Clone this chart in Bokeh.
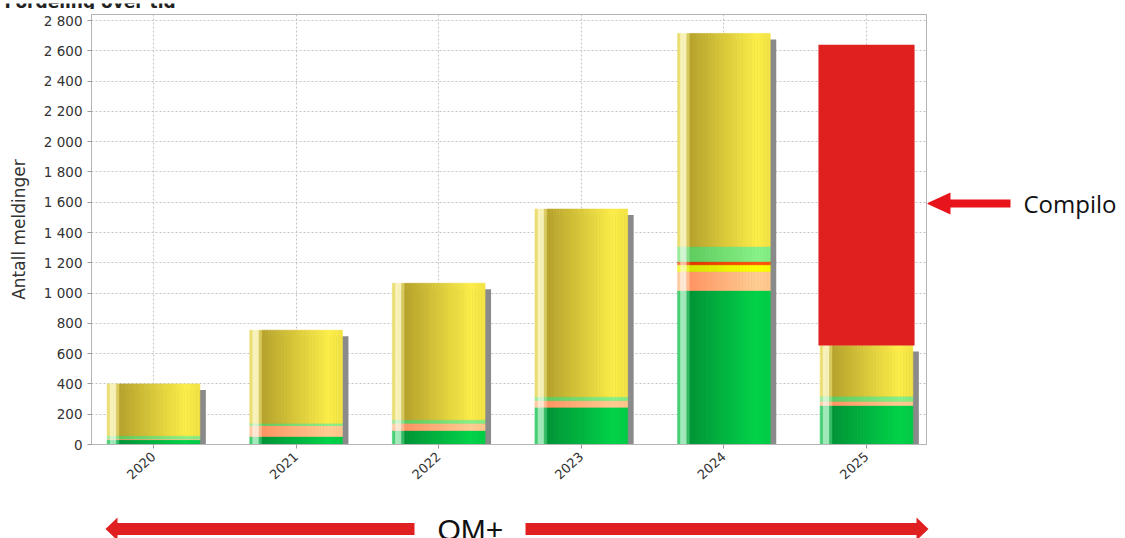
import numpy as np
from bokeh.plotting import figure
from bokeh.layouts import column, row
from bokeh.models import Range1d, FixedTicker, ColumnDataSource
from bokeh.core.properties import value
from bokeh.embed import file_html
from bokeh.resources import INLINE

# ---------------- data ----------------
years = ["2020", "2021", "2022", "2023", "2024", "2025"]
green = [32, 53, 92, 246, 1017, 258]
orange = [5, 73, 48, 44, 126, 28]
yellow = [0, 0, 0, 0, 44, 0]
red = [0, 0, 0, 0, 22, 0]
light_green = [20, 14, 23, 25, 99, 33]
gold = [343, 615, 902, 1240, 1407, 335]
compilo_top = 2640          # top of the Compilo box over 2025
ytick_values = [0, 200, 400, 600, 800, 1000, 1200, 1400, 1600, 1800, 2000, 2200, 2400, 2600, 2800]
ytick_labels = ["0", "200", "400", "600", "800", "1 000", "1 200", "1 400", "1 600",
                "1 800", "2 000", "2 200", "2 400", "2 600", "2 800"]
title_text = "Fordeling over tid"
compilo_text = "Compilo"
qm_text = "QM+"

segments = [
    (green, (0, 150, 55), (0, 212, 72)),
    (orange, (255, 150, 100), (255, 205, 145)),
    (yellow, (215, 228, 0), (255, 255, 0)),
    (red, (225, 55, 0), (255, 85, 10)),
    (light_green, (95, 205, 95), (135, 242, 135)),
    (gold, (184, 164, 44), (252, 237, 72)),
]

# ---------------- layout ----------------
W, H = 1125, 538
TOP_H = 9                 # strip for the cut title
BOT_H = 33                # strip for the QM+ arrow
MAIN_W = 927
MAIN_H = H - TOP_H - BOT_H
RIGHT_W = W - MAIN_W
FRAME_TOP, FRAME_BOTTOM = 14, 444     # page pixels
FRAME_LEFT, FRAME_RIGHT = 91, 926
X0, DX = 153.0, 142.6                 # page pixel of category 0, spacing
MB_TOP = FRAME_TOP - TOP_H
MB_BOTTOM = TOP_H + MAIN_H - FRAME_BOTTOM


def deco_fig(w, h, xr, yr, mb_top=0, mb_bottom=0):
    f = figure(width=w, height=h, output_backend="svg", toolbar_location=None,
               x_range=Range1d(*xr), y_range=Range1d(*yr),
               min_border=0, min_border_left=0, min_border_right=0,
               min_border_top=mb_top, min_border_bottom=mb_bottom)
    f.axis.visible = False
    f.grid.visible = False
    f.outline_line_color = None
    f.background_fill_color = "white"
    f.border_fill_color = "white"
    return f


BAR_W = 0.65
p = figure(width=MAIN_W, height=MAIN_H, output_backend="svg", toolbar_location=None,
           x_range=Range1d((FRAME_LEFT - X0) / DX, (FRAME_RIGHT - X0) / DX),
           y_range=Range1d(0, 2840),
           min_border_left=FRAME_LEFT, min_border_right=MAIN_W - FRAME_RIGHT,
           min_border_top=MB_TOP, min_border_bottom=MB_BOTTOM)
p.background_fill_color = "white"
p.border_fill_color = "white"
p.outline_line_color = "#b4b4b4"

ticks_x = list(range(len(years)))
p.xgrid.ticker = FixedTicker(ticks=ticks_x)
p.ygrid.ticker = FixedTicker(ticks=ytick_values)
for g in (p.xgrid, p.ygrid):
    g.grid_line_color = "#c4c4c4"
    g.grid_line_dash = "2 2"
    g.grid_line_width = 1

p.xaxis.ticker = FixedTicker(ticks=ticks_x)
p.xaxis.major_label_overrides = {i: y for i, y in enumerate(years)}
p.xaxis.major_label_orientation = 0.74
p.yaxis.ticker = FixedTicker(ticks=ytick_values)
p.yaxis.major_label_overrides = {v: l for v, l in zip(ytick_values, ytick_labels)}
p.yaxis.axis_label = "Antall meldinger"
for ax in (p.xaxis, p.yaxis):
    ax.axis_line_color = "#b4b4b4"
    ax.major_tick_line_color = "#999999"
    ax.major_tick_out = 4
    ax.major_tick_in = 0
    ax.minor_tick_line_color = None
    ax.major_label_text_font = "DejaVu Sans"
    ax.major_label_text_color = "#333333"
p.yaxis.major_label_text_font_size = "13.5px"
p.xaxis.major_label_text_font_size = "13px"
p.xaxis.major_label_standoff = 6
p.yaxis.axis_label_text_font = "DejaVu Sans"
p.yaxis.axis_label_text_font_style = "normal"
p.yaxis.axis_label_text_font_size = "17px"
p.yaxis.axis_label_text_color = "#333333"
p.yaxis.axis_label_standoff = 12

# shadows
totals = [sum(s[0][i] for s in segments) for i in range(len(years))]
px_per_unit = (FRAME_BOTTOM - FRAME_TOP) / 2840.0
sh_off = 6.0 / DX
sh_drop = 6.0 / px_per_unit
p.quad(left=[i - BAR_W / 2 + sh_off for i in ticks_x],
       right=[i + BAR_W / 2 + sh_off for i in ticks_x],
       bottom=[0] * len(years), top=[t - sh_drop for t in totals],
       fill_color="#8a8a8a", line_color=None)

# gradient bars (cylinder look)
N = 30
t_edges = np.linspace(0, 1, N + 1)
t_mid = (t_edges[:-1] + t_edges[1:]) / 2
kt = [0, 0.04, 0.07, 0.10, 0.15, 0.85, 1.0]
kf = [0.55, 0.7, 0.9, 0.5, 0.0, 1.0, 0.85]
kw = [0.12, 0.5, 0.9, 0.3, 0.0, 0.0, 0.0]
fvals = np.interp(t_mid, kt, kf)
wvals = np.interp(t_mid, kt, kw)

L, R, B, T, C = [], [], [], [], []
for i in ticks_x:
    cum = 0
    for vals, dark, light in segments:
        v = vals[i]
        if v <= 0:
            continue
        for j in range(N):
            col = [dark[k] + (light[k] - dark[k]) * fvals[j] for k in range(3)]
            col = [int(round(c + (255 - c) * wvals[j])) for c in col]
            L.append(i - BAR_W / 2 + t_edges[j] * BAR_W)
            R.append(i - BAR_W / 2 + t_edges[j + 1] * BAR_W)
            B.append(cum)
            T.append(cum + v)
            C.append("#%02x%02x%02x" % tuple(col))
        cum += v
src = ColumnDataSource(dict(left=L, right=R, bottom=B, top=T, color=C))
p.quad(left="left", right="right", bottom="bottom", top="top", source=src,
       fill_color="color", line_color="color", line_width=0.6)

# Compilo box over 2025
ci = len(years) - 1
p.quad(left=[ci - 0.337], right=[ci + 0.337], bottom=[totals[ci]], top=[compilo_top],
       fill_color="#e01f1f", line_color=None)

# ---------------- top strip: title cut by the page edge (page-pixel coords) ----------------
top = deco_fig(W, TOP_H, (0, W), (TOP_H, 0))
top.text(x=[4], y=[8.6], text=[title_text], text_font=value("DejaVu Sans"),
         text_font_size="17px", text_font_style="bold", text_color="#222222",
         text_baseline="bottom")

# ---------------- right strip: Compilo arrow (page-pixel coords, frame aligned) ----------------
rt = deco_fig(RIGHT_W, MAIN_H, (MAIN_W, W), (FRAME_BOTTOM, FRAME_TOP),
              mb_top=MB_TOP, mb_bottom=MB_BOTTOM)
ay = 203
rt.patch(x=[926, 950, 950, 1010, 1010, 950, 950],
         y=[ay, ay - 11, ay - 4, ay - 4, ay + 4, ay + 4, ay + 11],
         fill_color="#e8141c", line_color=None)
rt.text(x=[1023], y=[ay], text=[compilo_text], text_font=value("Open Sans"),
        text_font_size="24px", text_color="#111111", text_baseline="middle")

# ---------------- bottom strip: QM+ double arrow (page-pixel coords) ----------------
bt = deco_fig(W, BOT_H, (0, W), (H, H - BOT_H))
by = 528.5
RED = "#e02020"
bt.patch(x=[105, 117, 117, 414, 414, 117, 117],
         y=[by, by - 11.5, by - 6, by - 6, by + 6, by + 6, by + 11.5],
         fill_color=RED, line_color=None)
bt.patch(x=[928, 916, 916, 525, 525, 916, 916],
         y=[by, by - 11.5, by - 6, by - 6, by + 6, by + 6, by + 11.5],
         fill_color=RED, line_color=None)
bt.text(x=[437], y=[529], text=[qm_text], text_font=value("Liberation Sans"),
        text_font_size="30px", text_color="#111111", text_baseline="middle")

layout = column(top, row(p, rt), bt)
open("out.html", "w").write(file_html(layout, INLINE))
